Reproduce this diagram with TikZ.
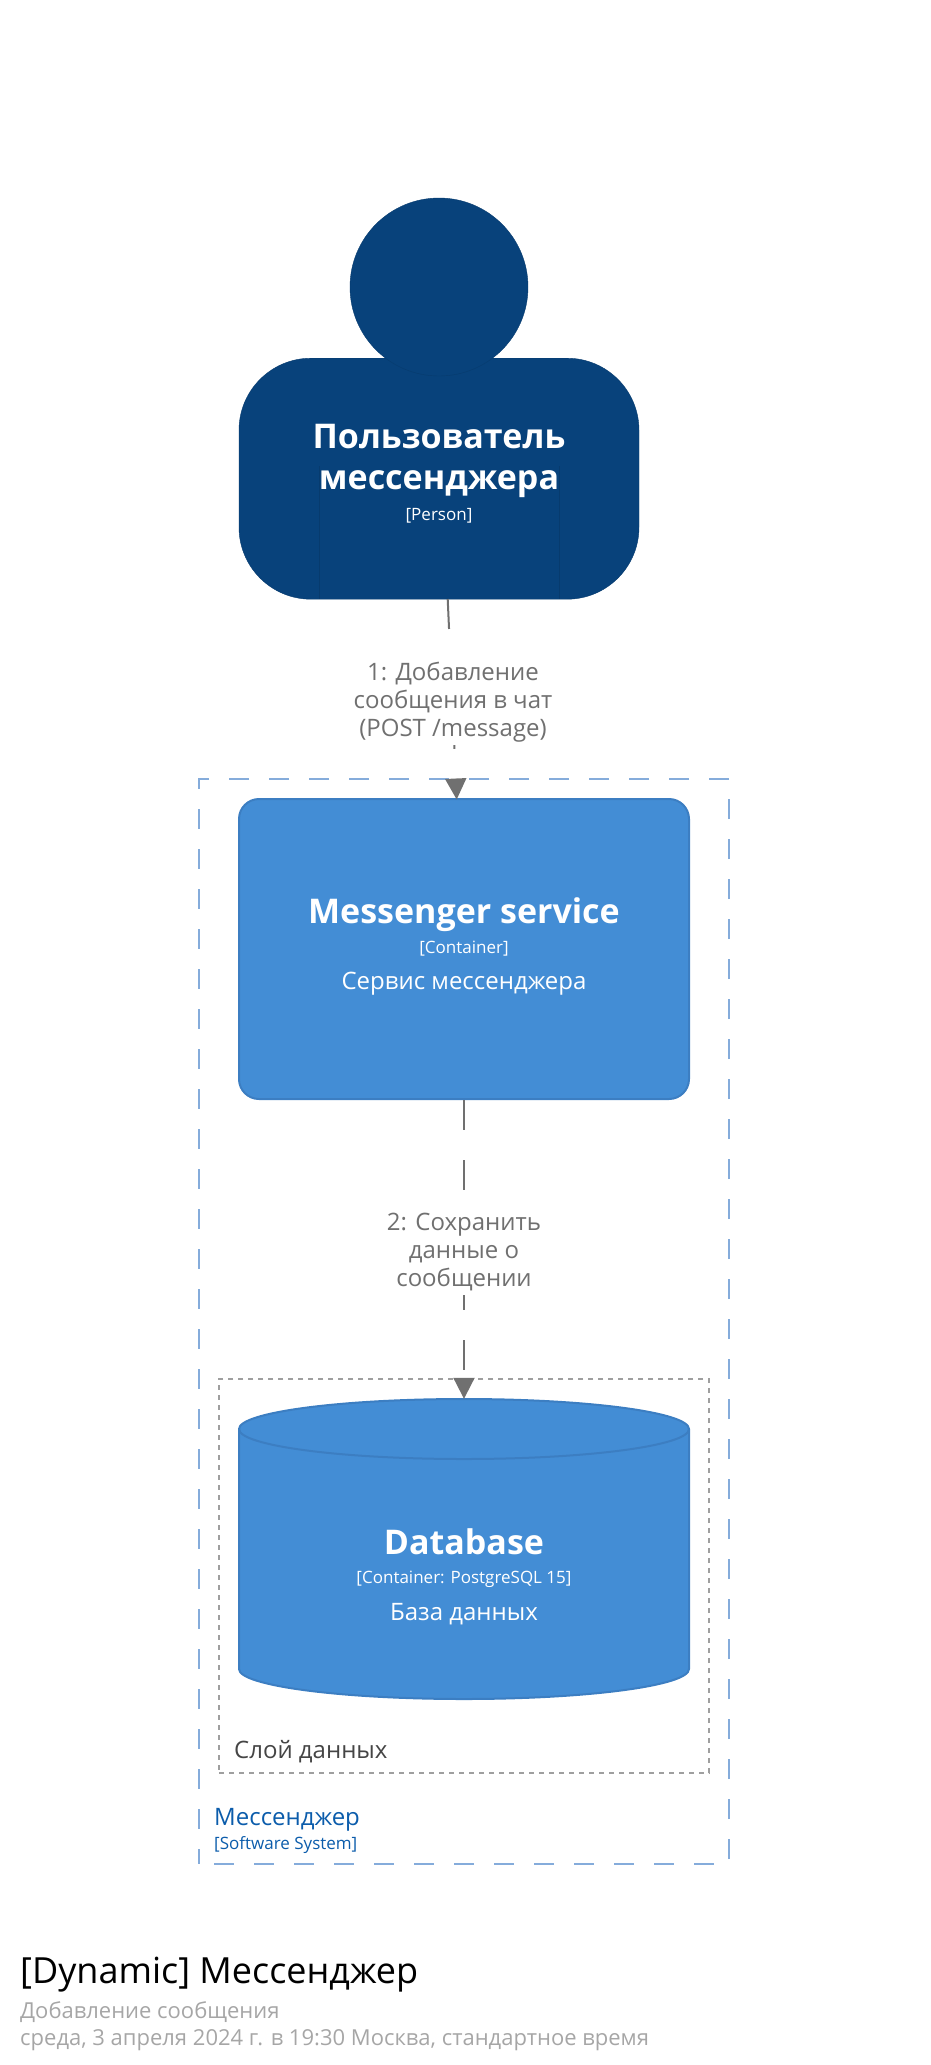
\documentclass[tikz,border=0pt]{standalone}
\usepackage{fontspec}
\setmainfont{Open Sans}
\usetikzlibrary{arrows.meta}
\definecolor{personfill}{HTML}{08427B}
\definecolor{personline}{HTML}{073B6E}
\definecolor{boxfill}{HTML}{438DD5}
\definecolor{boxline}{HTML}{3C7EC2}
\definecolor{linkgray}{HTML}{707070}
\definecolor{systemblue}{HTML}{0B5CAB}
\definecolor{systemline}{HTML}{85ACDB}
\newcommand{\linkfirst}{\rule{0pt}{24pt}}
\newcommand{\linklast}{\rule[-8.3pt]{0pt}{8.3pt}}
\tikzset{
    nametext/.style={
           anchor=base,
           inner sep=0pt,
           text=white,
           font=\fontsize{34}{42}\selectfont\bfseries,
           align=center,
           },
    metatext/.style={
           anchor=base,
           inner sep=0pt,
           text=white,
           font=\fontsize{17}{21}\selectfont,
           },
    desctext/.style={
           anchor=base,
           inner sep=0pt,
           text=white,
           font=\fontsize{24}{28}\selectfont,
           },
    container/.style={
           rectangle,
           rounded corners=20pt,
           draw=boxline,
           fill=boxfill,
           line width=2pt,
           minimum width=450pt,
           minimum height=300pt,
           },
    cylpart/.style={
           draw=boxline,
           line width=2pt,
           x radius=225pt,
           y radius=30pt,
           },
    boundary/.style={
           rectangle,
           inner sep=0pt,
           draw=systemline,
           line width=2pt,
           dash pattern=on 20pt off 20pt,
           dash phase=25pt,
           },
    layer/.style={
           rectangle,
           inner sep=0pt,
           draw=gray!75,
           line width=2pt,
           dash pattern=on 5pt off 5pt,
           },
    link/.style={
           draw=linkgray,
           line width=2pt,
           dash pattern=on 30pt off 30pt,
           -{Triangle[width=21pt,length=21pt]},
           },
    linktext/.style={
           anchor=south,
           fill=white,
           inner xsep=1pt,
           inner ysep=0pt,
           text=linkgray,
           align=center,
           font=\fontsize{24}{28}\selectfont,
           },
}

\begin{document}
\begin{tikzpicture}[x=1pt,y=-1pt]
      \useasboundingbox (0,0) rectangle (930,2065);
      % boundaries
      \node[boundary, minimum width=530pt, minimum height=1085pt] (messenger) at (464,1321.5) {};
      \node[layer, minimum width=490pt, minimum height=394pt] (datalayer) at (464,1576) {};
      \node[anchor=base west, inner sep=0pt, text=black!73, font=\fontsize{24}{28}\selectfont] (datalayer_name) at (234,1758) {Слой данных};
      \node[anchor=base west, inner sep=0pt, text=systemblue, font=\fontsize{24}{28}\selectfont] (messenger_name) at (214,1825) {Мессенджер};
      \node[anchor=base west, inner sep=0pt, text=systemblue, font=\fontsize{17}{21}\selectfont] (messenger_meta) at (214,1849) {[Software System]};
      % person
      \node[rectangle, rounded corners=72pt, draw=personline, fill=personfill, minimum width=400pt, minimum height=241pt] (usr_body) at (439,478.7) {};
      \node[circle, draw=personline, fill=personfill, minimum size=178pt, inner sep=0pt] (usr_head) at (439,287) {};
      \coordinate (arm_l) at (319.5,466);
      \coordinate (arm_r) at (559,466);
      \draw[personline] (arm_l) -- (arm_l |- usr_body.south);
      \draw[personline] (arm_r) -- (arm_r |- usr_body.south);
      \node[nametext] (usr_name) at (439,448) {Пользователь};
      \node[nametext] (usr_name2) at (439,489.5) {мессенджера};
      \node[metatext] (usr_meta) at (439,520) {[Person]};
      % containers
      \node[container] (svc) at (464,949) {};
      \node[nametext] (svc_name) at (464,923) {Messenger service};
      \node[metatext] (svc_meta) at (464,953) {[Container]};
      \node[desctext] (svc_desc) at (464,989) {Сервис мессенджера};
      % database, the node only holds the place of the drum
      \node[rectangle, inner sep=0pt, minimum width=450pt, minimum height=300pt] (db) at (464,1549) {};
      \draw[cylpart, fill=boxfill] (239,1429) arc[start angle=180, end angle=0] -- (689,1669) arc[start angle=0, end angle=-180] -- cycle;
      \draw[cylpart] (239,1429) arc[start angle=180, end angle=360];
      \node[nametext] (db_name) at (464,1554) {Database};
      \node[metatext] (db_meta) at (464,1583.5) {[Container: PostgreSQL 15]};
      \node[desctext] (db_desc) at (464,1620) {База данных};
      % links
      \coordinate (usr_out) at (447.7,599);
      \coordinate (svc_in) at (456.7,799.5);
      \draw[link] (usr_out) -- (svc_in);
      \draw[link] (svc.south) -- (db.north);
      \node[linktext] (link_a) at (453,745) {\linkfirst 1: Добавление\\сообщения в чат\\(POST /message)\linklast};
      \node[linktext] (link_b) at (464,1295.3) {\linkfirst 2: Сохранить\\данные о\\сообщении\linklast};
      % title
      \node[anchor=base west, inner sep=0pt, text=black, font=\fontsize{36}{42}\selectfont] (title) at (20,1983.5) {[Dynamic] Мессенджер};
      \node[anchor=base west, inner sep=0pt, text=black!35, font=\fontsize{22}{26}\selectfont] (subtitle) at (20,2018) {Добавление сообщения};
      \node[anchor=base west, inner sep=0pt, text=black!35, font=\fontsize{22}{26}\selectfont] (stamp) at (20,2045) {среда, 3 апреля 2024 г. в 19:30 Москва, стандартное время};
\end{tikzpicture}
\end{document}
